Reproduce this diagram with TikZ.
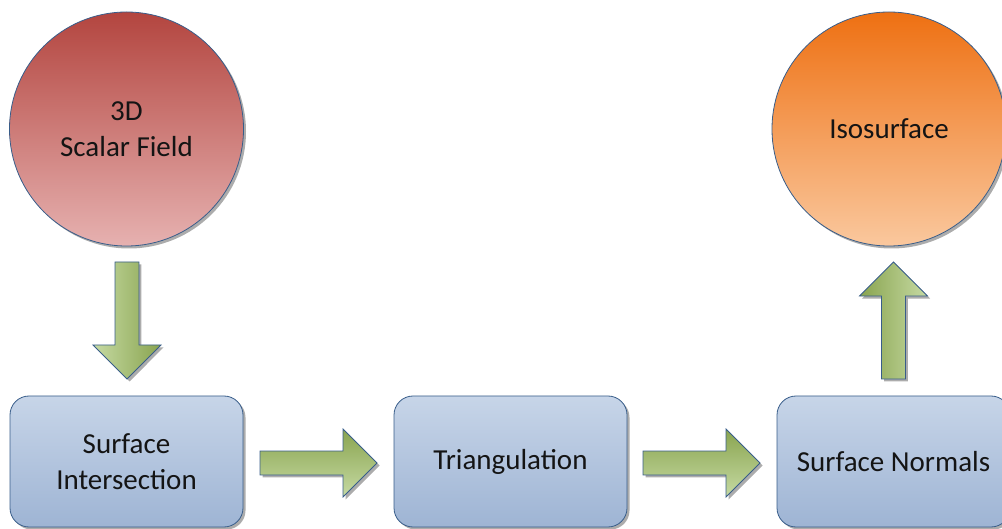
\documentclass[tikz,border=0pt]{standalone}
\usepackage{fontspec}
\setmainfont{Carlito}
\usetikzlibrary{shapes.arrows,shadows}

\definecolor{edgeblue}{HTML}{385D8A}
\definecolor{redtop}{HTML}{B3453F}
\definecolor{redbot}{HTML}{E6B1B0}
\definecolor{orgtop}{HTML}{EE7012}
\definecolor{orgbot}{HTML}{FAC89E}
\definecolor{boxtop}{HTML}{C7D5E8}
\definecolor{boxbot}{HTML}{9EB4D4}
\definecolor{grdark}{HTML}{89A44F}
\definecolor{grlight}{HTML}{C6DAA3}

\tikzset{
  softshadow/.style={drop shadow={shadow xshift=2.5pt, shadow yshift=-2.5pt,
      fill=black!38, opacity=0.85}},
  label text/.style={font=\fontsize{29}{36}\selectfont, text=black!92, align=center},
  bubble/.style={circle, draw=edgeblue, line width=0.8pt, inner sep=0pt,
      minimum size=234pt, softshadow, label text},
  stage/.style={rectangle, rounded corners=19pt, draw=edgeblue, line width=0.8pt,
      minimum width=233pt, minimum height=131pt, inner sep=0pt,
      top color=boxtop, bottom color=boxbot, softshadow, label text},
  blockarrow/.style={single arrow, draw=edgeblue, line width=0.8pt,
      inner sep=11.5pt, outer sep=0pt, single arrow head extend=22pt,
      minimum width=68pt, minimum height=117pt, anchor=tip, softshadow},
}

\begin{document}
\begin{tikzpicture}[x=1pt, y=-1pt]
  \useasboundingbox (0,0) rectangle (1002,529);
  \clip (0,0) rectangle (1002,529);

  % source and result
  \node[bubble, top color=redtop, bottom color=redbot] (field) at (126.5,129)
      {3D\\Scalar Field};
  \node[bubble, top color=orgtop, bottom color=orgbot] (iso) at (889,129)
      {Isosurface};

  % processing stages
  \node[stage] (inter) at (126.5,461.5) {Surface\\Intersection};
  \node[stage] (tri)   at (510.5,461.5) {Triangulation};
  \node[stage] (norm)  at (893.5,461.5) {Surface Normals};

  % flow arrows between the stages (placed by their tips)
  \node[blockarrow, shape border rotate=270,
        left color=grlight, right color=grdark] (a1) at (127,379) {};
  \node[blockarrow, top color=grdark, bottom color=grlight] (a2) at (377,463) {};
  \node[blockarrow, top color=grdark, bottom color=grlight] (a3) at (760,463) {};
  \node[blockarrow, shape border rotate=90,
        left color=grdark, right color=grlight] (a4) at (893.5,262) {};
\end{tikzpicture}
\end{document}
